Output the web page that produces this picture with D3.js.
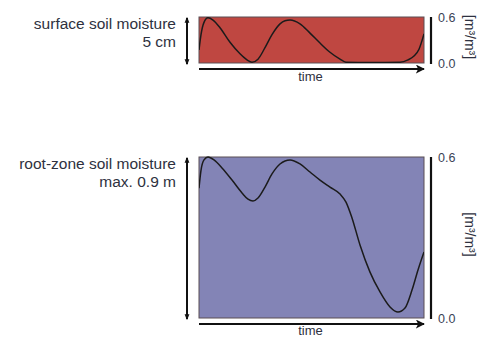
<!DOCTYPE html>
<html>
<head>
<meta charset="utf-8">
<script src="https://cdn.jsdelivr.net/npm/d3@7/dist/d3.min.js"></script>
<style>
  html, body { margin: 0; padding: 0; background: #fff; }
  svg { display: block; font-family: "Liberation Sans", Arial, sans-serif; }
</style>
</head>
<body>
<svg id="chart" width="478" height="337"></svg>
<script>
// Time axis is unitless (days into the period)
const surfaceTime  = [0, 2, 5, 9, 14, 21, 31, 41, 48, 53, 59, 66, 73, 81, 86, 91, 101, 111, 121, 131, 141, 147, 171, 201, 209, 215, 220, 225];
const surfaceValue = [0.17, 0.37, 0.53, 0.59, 0.56, 0.46, 0.27, 0.12, 0.04, 0.01, 0.05, 0.20, 0.37, 0.51, 0.55, 0.56, 0.51, 0.39, 0.26, 0.14, 0.05, 0.01, 0.005, 0.01, 0.04, 0.09, 0.18, 0.38];

const rootTime  = [0, 2, 5, 9, 15, 23, 33, 43, 49, 54, 59, 66, 73, 81, 91, 101, 111, 121, 131, 141, 147, 153, 161, 171, 181, 191, 199, 206, 213, 219, 225];
const rootValue = [0.484, 0.55, 0.589, 0.6, 0.589, 0.559, 0.514, 0.466, 0.443, 0.436, 0.447, 0.488, 0.537, 0.574, 0.589, 0.574, 0.544, 0.514, 0.488, 0.462, 0.432, 0.373, 0.272, 0.171, 0.097, 0.041, 0.022, 0.037, 0.104, 0.179, 0.246];

const tickValues = [0.0, 0.6];
const unitLabel = "[m³/m³]";
const timeLabel = "time";

const panels = [
  { id: "surface", lines: ["surface soil moisture", "5 cm"], time: surfaceTime, value: surfaceValue,
    fill: "#bf4741", top: 17, bottom: 63, timeOffset: 18 },
  { id: "root", lines: ["root-zone soil moisture", "max. 0.9 m"], time: rootTime, value: rootValue,
    fill: "#8384b6", top: 157, bottom: 318, timeOffset: 16.5 }
];

const svg = d3.select("#chart");
const defs = svg.append("defs");

defs.append("marker").attr("id", "head")
  .attr("viewBox", "0 0 10 10").attr("refX", 9).attr("refY", 5)
  .attr("markerWidth", 4.5).attr("markerHeight", 4.5).attr("orient", "auto-start-reverse")
  .attr("markerUnits", "strokeWidth")
  .append("path").attr("d", "M0,0 L10,5 L0,10 L2.5,5 Z").attr("fill", "#111");

defs.append("marker").attr("id", "tip")
  .attr("viewBox", "0 0 10 10").attr("refX", 8).attr("refY", 5)
  .attr("markerWidth", 3).attr("markerHeight", 3).attr("orient", "auto-start-reverse")
  .attr("markerUnits", "strokeWidth")
  .append("path").attr("d", "M0,1 L10,5 L0,9 Z").attr("fill", "#111");

const x = d3.scaleLinear().domain([0, 225]).range([199, 424]);
const textColor = "#2e3140";

panels.forEach(p => {
  const y = d3.scaleLinear().domain([0, 0.6]).range([p.bottom, p.top]);
  const g = svg.append("g").attr("class", p.id);

  // background box
  g.append("rect")
    .attr("x", x(0)).attr("y", y(0.6))
    .attr("width", x(225) - x(0)).attr("height", y(0) - y(0.6))
    .attr("fill", p.fill).attr("stroke", "#5a4f55").attr("stroke-width", 1);

  defs.append("clipPath").attr("id", "clip-" + p.id)
    .append("rect").attr("x", x(0)).attr("y", y(0.6) - 1)
    .attr("width", x(225) - x(0)).attr("height", y(0) - y(0.6) + 1);

  const data = p.time.map((t, i) => [t, p.value[i]]);
  const line = d3.line().x(d => x(d[0])).y(d => y(d[1])).curve(d3.curveMonotoneX);
  g.append("path").datum(data)
    .attr("d", line)
    .attr("clip-path", "url(#clip-" + p.id + ")")
    .attr("fill", "none").attr("stroke", "#1b1b1b").attr("stroke-width", 1.5);

  // depth arrow on the left
  g.append("line")
    .attr("x1", 187).attr("x2", 187)
    .attr("y1", y(0.6) + 1).attr("y2", y(0) + 1)
    .attr("stroke", "#111").attr("stroke-width", 2)
    .attr("marker-start", "url(#tip)").attr("marker-end", "url(#tip)");

  // layer description
  const label = g.append("text")
    .attr("text-anchor", "end").attr("fill", textColor)
    .attr("font-size", 15.5);
  p.lines.forEach((s, i) => {
    label.append("tspan").attr("x", 176).attr("y", y(0.6) + 12 + i * 17.5).text(s);
  });

  // time arrow
  g.append("line")
    .attr("x1", x(0)).attr("x2", x(225))
    .attr("y1", y(0) + 6).attr("y2", y(0) + 6)
    .attr("stroke", "#111").attr("stroke-width", 2)
    .attr("marker-end", "url(#head)");
  g.append("text")
    .attr("x", (x(0) + x(225)) / 2 - 1).attr("y", y(0) + p.timeOffset)
    .attr("text-anchor", "middle").attr("font-size", 13).attr("fill", textColor)
    .text(timeLabel);

  // value axis on the right
  const axis = d3.axisRight(y).tickValues(tickValues).tickSize(0).tickPadding(7)
    .tickFormat(d3.format(".1f"));
  const ag = g.append("g").attr("transform", "translate(431,0)").call(axis);
  ag.select(".domain").attr("stroke", "#111").attr("stroke-width", 2.2)
    .attr("d", `M0,${y(0.6)}V${y(0) + 1}`);
  ag.selectAll("text").attr("font-size", 12.5).attr("fill", "#3a4256")
    .attr("font-family", "Liberation Sans, Arial, sans-serif");

  g.append("text")
    .attr("transform", `translate(465,${(y(0) + y(0.6)) / 2 - 3}) rotate(90)`)
    .attr("text-anchor", "middle").attr("font-size", 14).attr("fill", textColor)
    .text(unitLabel);
});
</script>
</body>
</html>
